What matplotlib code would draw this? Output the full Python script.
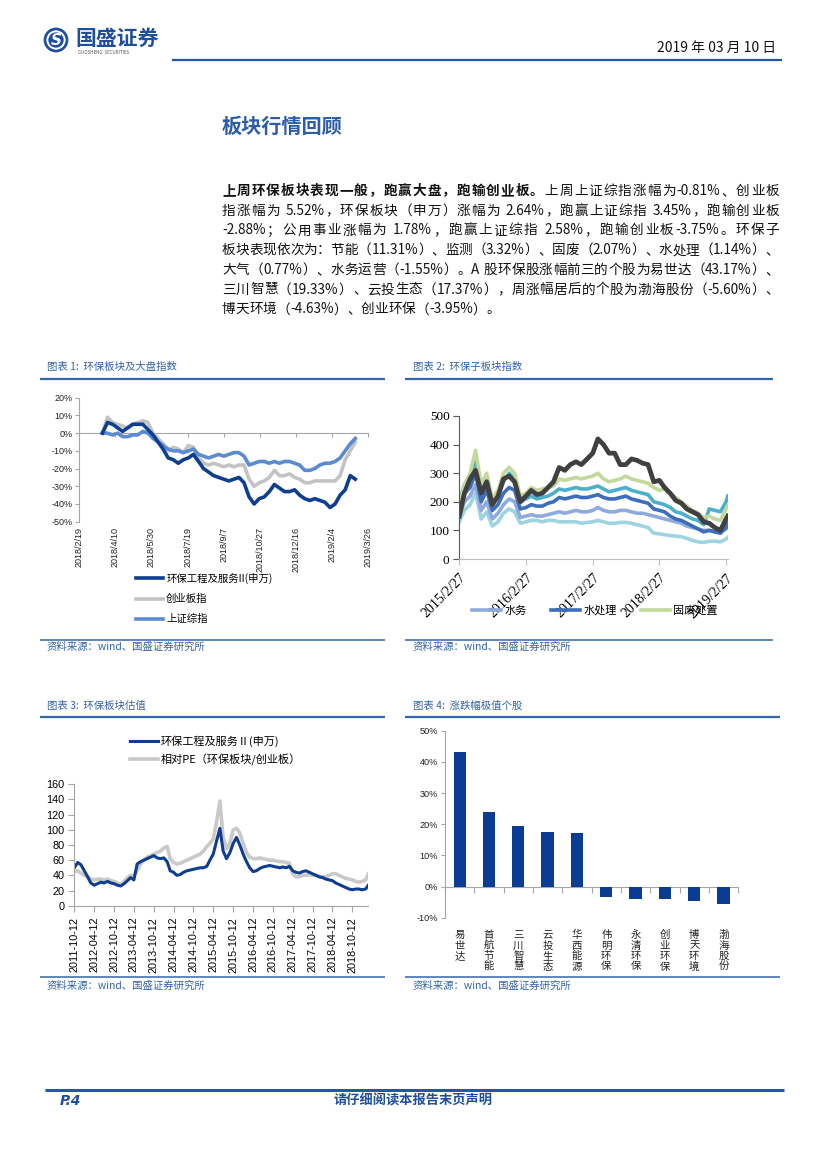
import re
import matplotlib
matplotlib.use('Agg')
import matplotlib.pyplot as plt
import matplotlib.ticker as mticker
import numpy as np
import pandas as pd
from matplotlib.patches import Circle
from matplotlib.lines import Line2D

plt.rcParams['font.family'] = ['Noto Sans CJK SC', 'DejaVu Sans']
plt.rcParams['axes.unicode_minus'] = False

# ======================= DATA =======================
# Chart 1: weekly cumulative change (%) since start
c1_labels = ['环保工程及服务II(申万)', '创业板指', '上证综指']
c1_start = '2018-03-23'
c1_env = [0, 6, 5, 3, 1, 3, 5, 5, 5, 2, -1, -5, -9, -14, -15, -17, -15, -14, -12, -16,
          -20, -22, -24, -25, -26, -27, -26, -25, -28, -36, -40, -37, -36, -33, -29,
          -31, -33, -33, -32, -35, -37, -38, -37, -38, -39, -42, -40, -35, -32, -24, -26]
c1_cyb = [0, 9, 6, 5, 4, 3, 5, 6, 7, 6, 0, -3, -6, -10, -8, -9, -11, -7, -8, -14,
          -17, -18, -17, -18, -19, -18, -19, -18, -18, -26, -30, -28, -27, -25, -21,
          -24, -24, -23, -25, -26, -28, -28, -27, -27, -27, -27, -27, -24, -15, -10, -5]
c1_sh = [0, 0, -1, 0, -2, -2, -1, -1, 1, 0, -3, -5, -7, -9, -10, -10, -11, -10, -9, -12,
         -13, -14, -13, -12, -13, -12, -11, -11, -13, -18, -17, -16, -16, -17, -16,
         -17, -16, -16, -17, -18, -21, -21, -20, -18, -17, -17, -16, -14, -10, -6, -3]
c1_ticks = ['2018/2/19', '2018/4/10', '2018/5/30', '2018/7/19', '2018/9/7',
            '2018/10/27', '2018/12/16', '2019/2/4', '2019/3/26']

# Chart 2: monthly sub-sector indices (2015/2/27 ... 2019/2/27, then 2019/3/8)
c2_start = '2015-02-27'
c2_last = '2019-03-08'
c2_lc = [130, 170, 190, 230, 140, 165, 115, 130, 160, 175, 165, 125, 130, 135, 135, 130, 135,
         135, 130, 130, 130, 130, 125, 128, 130, 135, 130, 125, 125, 128, 128, 125, 120, 115,
         110, 90, 88, 85, 82, 80, 78, 72, 65, 60, 58, 62, 62, 60, 70, 75]
c2_ws = [150, 200, 220, 260, 170, 200, 140, 160, 190, 210, 200, 145, 150, 155, 150, 150, 155,
         160, 165, 160, 165, 170, 165, 165, 170, 180, 170, 165, 165, 170, 170, 165, 160, 160,
         155, 150, 145, 140, 135, 130, 125, 115, 110, 105, 100, 100, 95, 95, 105, 110]
c2_wt = [170, 230, 250, 300, 200, 240, 170, 190, 230, 250, 240, 175, 180, 190, 185, 185, 195,
         200, 215, 210, 215, 220, 215, 215, 220, 225, 215, 210, 210, 215, 220, 210, 205, 200,
         195, 175, 170, 165, 150, 140, 135, 125, 115, 105, 95, 100, 95, 90, 110, 125]
c2_teal = [200, 260, 280, 350, 240, 280, 190, 220, 270, 300, 280, 200, 210, 220, 210, 215, 220,
           230, 245, 240, 245, 250, 245, 245, 250, 255, 245, 235, 240, 245, 250, 240, 235, 230,
           225, 200, 195, 190, 180, 165, 160, 150, 140, 135, 120, 175, 170, 165, 200, 220]
c2_green = [190, 260, 300, 380, 260, 300, 210, 240, 300, 320, 300, 220, 230, 250, 240, 245, 250,
            255, 280, 275, 280, 285, 280, 285, 290, 300, 280, 270, 275, 280, 290, 280, 275, 270,
            265, 250, 240, 245, 230, 215, 200, 185, 170, 160, 145, 150, 140, 135, 175, 185]
c2_dark = [150, 230, 280, 310, 230, 270, 190, 220, 280, 290, 270, 200, 220, 240, 225, 230, 250,
           270, 320, 310, 330, 340, 330, 350, 370, 420, 400, 370, 370, 330, 330, 350, 345, 335,
           330, 270, 275, 250, 230, 205, 195, 175, 165, 155, 130, 125, 110, 100, 140, 150]
c2_legend = ['水务', '水处理', '固废处置']
c2_ticks = ['2015/2/27', '2016/2/27', '2017/2/27', '2018/2/27', '2019/2/27']

# Chart 3: monthly PE (2011-10-12 ... 2019-02-12, then 2019-03-08)
c3_start = '2011-10-12'
c3_last = '2019-03-08'
c3_labels = ['环保工程及服务Ⅱ(申万)', '相对PE（环保板块/创业板）']
c3_env = [50, 57, 54, 46, 38, 30, 27, 29, 31, 30,
          32, 30, 29, 27, 26, 29, 33, 37, 34, 55,
          58, 60, 62, 64, 66, 63, 62, 63, 58, 46,
          44, 40, 41, 44, 46, 47, 48, 49, 50, 50,
          52, 60, 68, 85, 102, 72, 62, 70, 82, 90,
          80, 68, 58, 50, 45, 46, 49, 51, 52, 53,
          52, 51, 50, 51, 50, 52, 46, 44, 43, 45,
          46, 44, 42, 40, 38, 37, 35, 34, 33, 30,
          28, 26, 24, 22, 21, 22, 22, 21, 22, 27]
c3_pe = [45, 46, 43, 40, 38, 35, 34, 35, 35, 34,
         35, 33, 32, 30, 28, 32, 37, 40, 39, 46,
         55, 60, 64, 66, 68, 70, 72, 76, 78, 62,
         57, 55, 56, 58, 60, 62, 64, 66, 68, 72,
         78, 82, 88, 110, 138, 90, 75, 82, 100, 102,
         96, 82, 70, 64, 62, 62, 63, 62, 61, 60,
         60, 59, 58, 58, 57, 56, 42, 38, 38, 40,
         40, 41, 40, 40, 39, 38, 38, 40, 42, 42,
         40, 38, 36, 35, 34, 32, 31, 32, 34, 42]

# Chart 4: weekly change extremes (%)
c4_names = ['易世达', '首航节能', '三川智慧', '云投生态', '华西能源',
            '伟明环保', '永清环保', '创业环保', '博天环境', '渤海股份']
c4_values = [43.17, 23.8, 19.33, 17.37, 17.2, -3.2, -4.0, -3.95, -4.63, -5.60]

# ======================= LAYOUT HELPERS =======================
W, H = 827, 1169
fig = plt.figure(figsize=(W / 100, H / 100), dpi=100)
fig.patch.set_facecolor('white')
renderer = fig.canvas.get_renderer()

NAVY = '#1F4E9E'
CAP = '#3562A8'
GRID = '#A6A6A6'


def fx(x):
    return x / W


def fy(y):
    return 1 - y / H


def add_ax(l, t, r, b):
    return fig.add_axes([fx(l), fy(b), (r - l) / W, (b - t) / H])


def hline(x0, x1, y, lw, color):
    fig.add_artist(Line2D([fx(x0), fx(x1)], [fy(y), fy(y)], lw=lw, color=color,
                          transform=fig.transFigure, solid_capstyle='butt'))


def ftext(x, y, s, **kw):
    kw.setdefault('va', 'center')
    return fig.text(fx(x), fy(y), s, **kw)


TOK = re.compile(r'[A-Za-z0-9.%\-]+|.')


def draw_line(segments, y, x0=222, x1=779, justify=True, size=9.8):
    toks = []
    for s, w in segments:
        for m in TOK.findall(s):
            toks.append((m, w))
    objs, widths = [], []
    for s, w in toks:
        if s == ' ':
            objs.append(None)
            widths.append(size * 0.28 * 100 / 72)
            continue
        t = fig.text(0, fy(y), s, fontsize=size, fontweight=w, va='center', ha='left',
                     color='#111111')
        objs.append(t)
        widths.append(t.get_window_extent(renderer).width)
    gap = 0
    if justify and len(toks) > 1:
        gap = (x1 - x0 - sum(widths)) / (len(toks) - 1)
    x = x0
    for t, wdt in zip(objs, widths):
        if t is not None:
            t.set_x(fx(x))
        x += wdt + gap


def style_ticks(labels, family):
    for lb in labels:
        lb.set_fontfamily(family)


# ======================= HEADER =======================
lax = fig.add_axes([fx(43), fy(53), 26 / W, 26 / H])
lax.set_xlim(-1.05, 1.05)
lax.set_ylim(-1.05, 1.05)
lax.set_aspect('equal')
lax.axis('off')
lax.add_patch(Circle((0, 0), 1.0, fc=NAVY, ec='none'))
lax.add_patch(Circle((0, 0), 0.78, fc='white', ec='none'))
lax.add_patch(Circle((0, 0), 0.62, fc=NAVY, ec='none'))
lax.text(0, -0.02, 'S', color='white', fontsize=11, fontweight='bold', ha='center',
         va='center', family='DejaVu Sans', style='italic')
ftext(75, 38, '国盛证券', fontsize=15, fontweight='bold', color=NAVY)
ftext(78, 52, 'GUOSHENG  SECURITIES', fontsize=3.2, color='#555555')
ftext(776, 48, '2019 年 03 月 10 日', fontsize=10, ha='right', color='#111111')
hline(172, 782, 60, 1.6, '#2556A6')

# ======================= SECTION TEXT =======================
ftext(222, 126, '板块行情回顾', fontsize=14.5, fontweight='bold', color='#2E5DA6')

body = [
    [('上周环保板块表现一般，跑赢大盘，跑输创业板。', 'bold'), ('上周上证综指涨幅为-0.81%、创业板', 'normal')],
    [('指涨幅为 5.52%，环保板块（申万）涨幅为 2.64%，跑赢上证综指 3.45%，跑输创业板', 'normal')],
    [('-2.88%；公用事业涨幅为 1.78%，跑赢上证综指 2.58%，跑输创业板-3.75%。环保子', 'normal')],
    [('板块表现依次为：节能（11.31%）、监测（3.32%）、固废（2.07%）、水处理（1.14%）、', 'normal')],
    [('大气（0.77%）、水务运营（-1.55%）。A 股环保股涨幅前三的个股为易世达（43.17%）、', 'normal')],
    [('三川智慧（19.33%）、云投生态（17.37%），周涨幅居后的个股为渤海股份（-5.60%）、', 'normal')],
    [('博天环境（-4.63%）、创业环保（-3.95%）。', 'normal')],
]
for i, segs in enumerate(body):
    draw_line(segs, 191 + 19.7 * i, justify=(i < len(body) - 1))

# ======================= CAPTIONS / SOURCE LINES =======================
SRC = '资料来源：wind、国盛证券研究所'
ftext(47, 367, '图表 1:  环保板块及大盘指数', fontsize=7.5, color=CAP)
ftext(413, 367, '图表 2:  环保子板块指数', fontsize=7.5, color=CAP)
hline(40, 385, 378.5, 1.6, '#3465A8')
hline(405, 773, 378.5, 1.6, '#3465A8')
hline(40, 385, 639.5, 1.1, '#3465A8')
hline(405, 773, 639.5, 1.1, '#3465A8')
ftext(47, 647, SRC, fontsize=7.5, color=CAP)
ftext(413, 647, SRC, fontsize=7.5, color=CAP)

ftext(47, 706, '图表 3:  环保板块估值', fontsize=7.5, color=CAP)
ftext(413, 706, '图表 4:  涨跌幅极值个股', fontsize=7.5, color=CAP)
hline(40, 385, 716.7, 1.6, '#3465A8')
hline(405, 780, 716.7, 1.6, '#3465A8')
hline(40, 385, 976.7, 1.1, '#3465A8')
hline(405, 780, 976.7, 1.1, '#3465A8')
ftext(47, 985.5, SRC, fontsize=7.5, color=CAP)
ftext(413, 985.5, SRC, fontsize=7.5, color=CAP)

# ======================= CHART 1 =======================
ax1 = add_ax(79.3, 397.7, 368.3, 521.7)
d1 = pd.date_range(c1_start, periods=len(c1_env), freq='7D')
l_cyb, = ax1.plot(d1, c1_cyb, color='#C3C3C3', lw=2.6)
l_sh, = ax1.plot(d1, c1_sh, color='#5B8BD1', lw=2.6)
l_env, = ax1.plot(d1, c1_env, color='#0E3E8F', lw=2.6)
t1 = pd.to_datetime(c1_ticks, format='%Y/%m/%d')
ax1.set_xlim(t1[0], t1[-1])
ax1.set_ylim(-50, 20)
ax1.set_yticks(range(-50, 21, 10))
ax1.yaxis.set_major_formatter(mticker.FuncFormatter(lambda v, p: f'{v:.0f}%'))
ax1.set_xticks(t1)
ax1.set_xticklabels(c1_ticks, rotation=90, fontsize=6.5)
style_ticks(ax1.get_xticklabels(), 'Liberation Sans')
ax1.tick_params(axis='x', length=0, pad=4, colors='#222222')
ax1.tick_params(axis='y', labelsize=6.5, length=3, color=GRID, pad=2, labelcolor='#222222')
style_ticks(ax1.get_yticklabels(), 'Liberation Sans')
for s in ['top', 'right', 'bottom']:
    ax1.spines[s].set_visible(False)
ax1.spines['left'].set_color(GRID)
sec1 = ax1.secondary_xaxis(0, transform=ax1.transData)
sec1.set_xticks(ax1.get_xticks())
sec1.xaxis.set_major_formatter(mticker.NullFormatter())
sec1.tick_params(axis='x', direction='out', length=3, color=GRID)
for s in sec1.spines.values():
    s.set_color(GRID)
fig.legend([l_env, l_cyb, l_sh], c1_labels, loc='upper left',
           bbox_to_anchor=(fx(136), fy(573)), frameon=False, fontsize=7.5,
           handlelength=2.6, handletextpad=0.3, labelspacing=0.95, borderpad=0,
           borderaxespad=0)

# ======================= CHART 2 =======================
ax2 = add_ax(459.3, 416, 727.7, 559)
d2 = pd.date_range(c2_start, periods=len(c2_dark) - 1,
                   freq=pd.DateOffset(months=1)).append(pd.DatetimeIndex([c2_last]))
ax2.plot(d2, c2_lc, color='#9ED3E2', lw=2.6)
h_ws, = ax2.plot(d2, c2_ws, color='#8FAADC', lw=2.6)
h_wt, = ax2.plot(d2, c2_wt, color='#3D6EBB', lw=2.6)
ax2.plot(d2, c2_teal, color='#4CB0CC', lw=2.6)
h_gr, = ax2.plot(d2, c2_green, color='#C3D89B', lw=2.6)
ax2.plot(d2, c2_dark, color='#404040', lw=3.4)
t2 = pd.to_datetime(c2_ticks, format='%Y/%m/%d')
ax2.set_xlim(pd.Timestamp(c2_start), pd.Timestamp(c2_last))
ax2.set_ylim(0, 500)
ax2.set_yticks(range(0, 501, 100))
ax2.set_xticks(t2)
ax2.set_xticklabels(c2_ticks, rotation=45, ha='right', rotation_mode='anchor', fontsize=10)
style_ticks(ax2.get_xticklabels(), 'Liberation Serif')
ax2.tick_params(axis='y', labelsize=9.5, length=4, color='#595959', pad=3)
style_ticks(ax2.get_yticklabels(), 'Liberation Serif')
ax2.tick_params(axis='x', length=4, color='#BFBFBF', pad=5)
for s in ['top', 'right']:
    ax2.spines[s].set_visible(False)
ax2.spines['left'].set_color('#595959')
ax2.spines['bottom'].set_color('#BFBFBF')
fig.legend([h_ws, h_wt, h_gr], c2_legend, loc='upper left', ncol=3,
           bbox_to_anchor=(fx(472), fy(605)), frameon=False, fontsize=8,
           handlelength=2.6, handletextpad=0.3, columnspacing=2.2, borderpad=0,
           borderaxespad=0)

# ======================= CHART 3 =======================
ax3 = add_ax(74.3, 784.3, 368.3, 905.7)
d3 = pd.date_range(c3_start, periods=len(c3_env) - 1,
                   freq=pd.DateOffset(months=1)).append(pd.DatetimeIndex([c3_last]))
h_pe, = ax3.plot(d3, c3_pe, color='#C9C9C9', lw=2.6)
h_e3, = ax3.plot(d3, c3_env, color='#0E3E8F', lw=2.2)
t3 = pd.date_range(c3_start, '2018-10-12', freq=pd.DateOffset(months=6))
ax3.set_xlim(pd.Timestamp(c3_start), pd.Timestamp(c3_last))
ax3.set_ylim(0, 160)
ax3.set_yticks(range(0, 161, 20))
ax3.set_xticks(t3)
ax3.set_xticklabels([d.strftime('%Y-%m-%d') for d in t3], rotation=90, fontsize=7.8)
style_ticks(ax3.get_xticklabels(), 'Liberation Sans')
ax3.tick_params(axis='x', length=4, color=GRID, pad=4)
ax3.tick_params(axis='y', labelsize=7.8, length=4, color=GRID, pad=3)
style_ticks(ax3.get_yticklabels(), 'Liberation Sans')
for s in ['top', 'right']:
    ax3.spines[s].set_visible(False)
ax3.spines['left'].set_color(GRID)
ax3.spines['bottom'].set_color(GRID)
fig.legend([h_e3, h_pe], c3_labels, loc='upper left',
           bbox_to_anchor=(fx(130), fy(735)), frameon=False, fontsize=8,
           handlelength=2.5, handletextpad=0.3, labelspacing=0.65, borderpad=0,
           borderaxespad=0)

# ======================= CHART 4 =======================
ax4 = add_ax(445, 730.7, 738.3, 917.7)
x4 = np.arange(len(c4_names))
ax4.bar(x4, c4_values, width=0.42, color='#0B3C93')
ax4.set_xlim(-0.5, len(c4_names) - 0.5)
ax4.set_ylim(-10, 50)
ax4.set_yticks(range(-10, 51, 10))
ax4.yaxis.set_major_formatter(mticker.FuncFormatter(lambda v, p: f'{v:.0f}%'))
ax4.set_xticks(x4)
ax4.set_xticklabels(['\n'.join(n) for n in c4_names], fontsize=7.5, linespacing=1.05,
                    va='top', color='#222222')
ax4.tick_params(axis='x', length=0, pad=9)
ax4.tick_params(axis='y', labelsize=6.6, length=3, color=GRID, pad=2, labelcolor='#222222')
style_ticks(ax4.get_yticklabels(), 'Liberation Sans')
for s in ['top', 'right', 'bottom']:
    ax4.spines[s].set_visible(False)
ax4.spines['left'].set_color(GRID)
sec4 = ax4.secondary_xaxis(0, transform=ax4.transData)
sec4.set_xticks(np.arange(-0.5, len(c4_names), 1.0))
sec4.xaxis.set_major_formatter(mticker.NullFormatter())
sec4.tick_params(axis='x', direction='out', length=4, color=GRID)
for s in sec4.spines.values():
    s.set_color(GRID)

# ======================= FOOTER =======================
hline(45, 784, 1090, 2.2, '#2556A6')
ftext(60, 1101, 'P.4', fontsize=10, fontweight='bold', style='italic', color=NAVY,
      family='DejaVu Sans')
ftext(413, 1101, '请仔细阅读本报告末页声明', fontsize=9.5, fontweight='bold', color=NAVY,
      ha='center')

fig.savefig('out.png', dpi=100, facecolor='white')
